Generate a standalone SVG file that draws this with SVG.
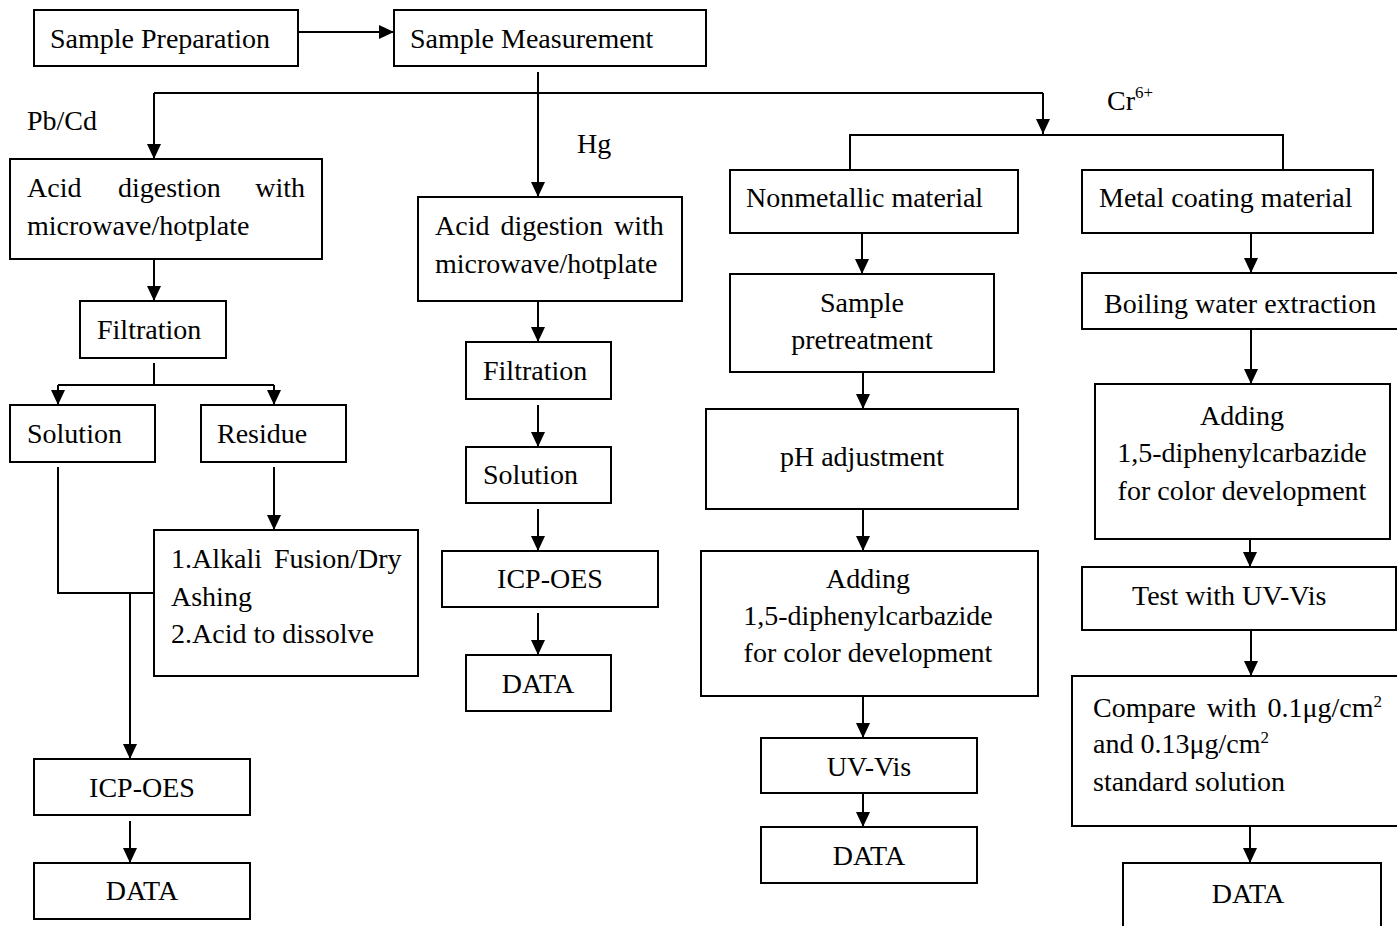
<svg xmlns="http://www.w3.org/2000/svg" width="1397" height="926" viewBox="0 0 1397 926">
<defs>
<marker id="ah" markerUnits="userSpaceOnUse" markerWidth="15" markerHeight="14" refX="15" refY="7" orient="auto">
<path d="M0,0 L15,7 L0,14 z" fill="#000"/>
</marker>
</defs>
<style>
rect{fill:#fff;stroke:#000;stroke-width:2}
text{font-family:"Liberation Serif","Times New Roman",serif;font-size:28px;fill:#000}
.c{text-anchor:middle}
.e{text-anchor:end}
.sup{font-size:17px}
.ln{fill:none;stroke:#000;stroke-width:2}
.ar{fill:none;stroke:#000;stroke-width:2;marker-end:url(#ah)}
</style>
<rect x="0" y="0" width="1397" height="926" style="stroke:none;fill:#fff"/>
<g id="connectors">
<path class="ar" d="M298,32 H394"/>
<path class="ar" d="M538,72 V197"/>
<path class="ln" d="M154,93 H1043"/>
<path class="ar" d="M154,93 V159"/>
<path class="ar" d="M1043,93 V134"/>
<path class="ln" d="M850,170 V135 H1283 V170"/>
<path class="ar" d="M154,259 V301"/>
<path class="ln" d="M154,363 V385 M58,385 H274"/>
<path class="ar" d="M58,385 V405"/>
<path class="ar" d="M274,385 V405"/>
<path class="ln" d="M58,467 V593 H154"/>
<path class="ar" d="M130,593 V759"/>
<path class="ar" d="M274,467 V530"/>
<path class="ar" d="M130,821 V863"/>
<path class="ar" d="M538,301 V342"/>
<path class="ar" d="M538,405 V447"/>
<path class="ar" d="M538,509 V551"/>
<path class="ar" d="M538,613 V655"/>
<path class="ar" d="M862,233 V274"/>
<path class="ar" d="M863,372 V409"/>
<path class="ar" d="M863,509 V551"/>
<path class="ar" d="M863,696 V738"/>
<path class="ar" d="M863,793 V827"/>
<path class="ar" d="M1251,233 V273"/>
<path class="ar" d="M1251,329 V384"/>
<path class="ar" d="M1250,539 V567"/>
<path class="ar" d="M1251,630 V676"/>
<path class="ar" d="M1250,826 V863"/>
</g>
<g id="labels">
<text x="27" y="130">Pb/Cd</text>
<text x="577" y="153">Hg</text>
<text x="1107" y="110">Cr<tspan class="sup" dy="-12">6+</tspan></text>
</g>
<g id="n-prep"><rect x="34" y="10" width="264" height="56"/><text x="50" y="48">Sample Preparation</text></g>
<g id="n-meas"><rect x="394" y="10" width="312" height="56"/><text x="410" y="48">Sample Measurement</text></g>
<g id="n-pb-acid"><rect x="10" y="159" width="312" height="100"/><text x="27" y="197">Acid</text><text x="118" y="197">digestion</text><text class="e" x="305" y="197">with</text><text x="27" y="235">microwave/hotplate</text></g>
<g id="n-pb-filt"><rect x="80" y="301" width="146" height="57"/><text x="97" y="339">Filtration</text></g>
<g id="n-pb-sol"><rect x="10" y="405" width="145" height="57"/><text x="27" y="443">Solution</text></g>
<g id="n-pb-res"><rect x="201" y="405" width="145" height="57"/><text x="217" y="443">Residue</text></g>
<g id="n-pb-alk"><rect x="154" y="530" width="264" height="146"/><text x="171" y="568" word-spacing="5">1.Alkali Fusion/Dry</text><text x="171" y="606">Ashing</text><text x="171" y="643">2.Acid to dissolve</text></g>
<g id="n-pb-icp"><rect x="34" y="759" width="216" height="56"/><text class="c" x="142" y="797">ICP-OES</text></g>
<g id="n-pb-data"><rect x="34" y="863" width="216" height="56"/><text class="c" x="142" y="900">DATA</text></g>
<g id="n-hg-acid"><rect x="418" y="197" width="264" height="104"/><text x="435" y="235" word-spacing="4">Acid digestion with</text><text x="435" y="273">microwave/hotplate</text></g>
<g id="n-hg-filt"><rect x="466" y="342" width="145" height="57"/><text x="483" y="380">Filtration</text></g>
<g id="n-hg-sol"><rect x="466" y="447" width="145" height="56"/><text x="483" y="484">Solution</text></g>
<g id="n-hg-icp"><rect x="442" y="551" width="216" height="56"/><text class="c" x="550" y="588">ICP-OES</text></g>
<g id="n-hg-data"><rect x="466" y="655" width="145" height="56"/><text class="c" x="538" y="693">DATA</text></g>
<g id="n-cr-nonmet"><rect x="730" y="170" width="288" height="63"/><text x="746" y="207">Nonmetallic material</text></g>
<g id="n-cr-pre"><rect x="730" y="274" width="264" height="98"/><text class="c" x="862" y="312">Sample</text><text class="c" x="862" y="349">pretreatment</text></g>
<g id="n-cr-ph"><rect x="706" y="409" width="312" height="100"/><text class="c" x="862" y="466">pH adjustment</text></g>
<g id="n-cr-add1"><rect x="701" y="551" width="337" height="145"/><text class="c" x="868" y="588">Adding</text><text class="c" x="868" y="625">1,5-diphenylcarbazide</text><text class="c" x="868" y="662">for color development</text></g>
<g id="n-cr-uv"><rect x="761" y="738" width="216" height="55"/><text class="c" x="869" y="776">UV-Vis</text></g>
<g id="n-cr-data1"><rect x="761" y="827" width="216" height="56"/><text class="c" x="869" y="865">DATA</text></g>
<g id="n-cr-metal"><rect x="1082" y="170" width="291" height="63"/><text x="1099" y="207">Metal coating material</text></g>
<g id="n-cr-boil"><rect x="1082" y="273" width="318" height="56"/><text x="1104" y="313">Boiling water extraction</text></g>
<g id="n-cr-add2"><rect x="1095" y="384" width="295" height="155"/><text class="c" x="1242" y="425">Adding</text><text class="c" x="1242" y="462">1,5-diphenylcarbazide</text><text class="c" x="1242" y="500">for color development</text></g>
<g id="n-cr-test"><rect x="1082" y="567" width="314" height="63"/><text x="1132" y="605">Test with UV-Vis</text></g>
<g id="n-cr-comp"><rect x="1072" y="676" width="330" height="150"/><text x="1093" y="717" word-spacing="4">Compare with 0.1μg/cm<tspan class="sup" dy="-10">2</tspan></text><text x="1093" y="753">and 0.13μg/cm<tspan class="sup" dy="-10">2</tspan></text><text x="1093" y="791">standard solution</text></g>
<g id="n-cr-data2"><rect x="1123" y="863" width="258" height="70"/><text class="c" x="1248" y="903">DATA</text></g>
</svg>
